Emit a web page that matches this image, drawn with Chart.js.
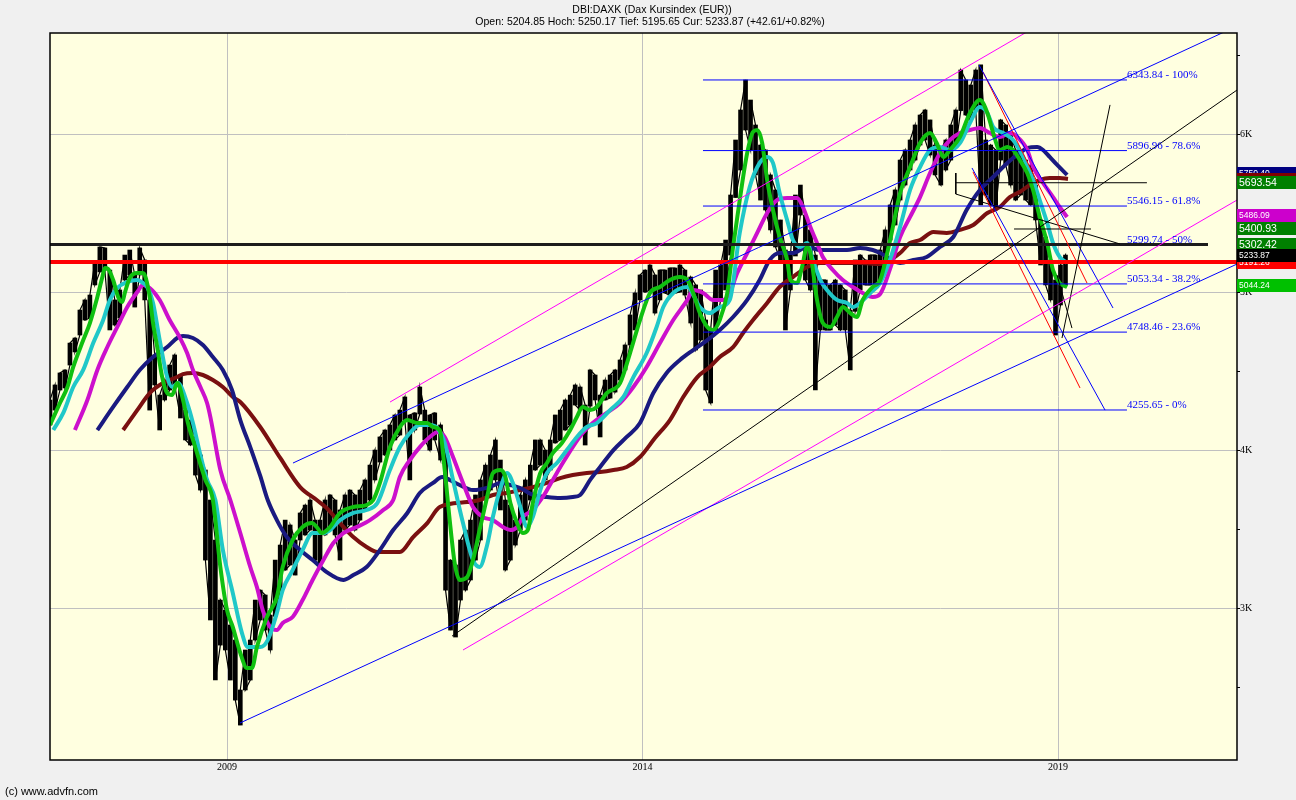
<!DOCTYPE html>
<html><head><meta charset="utf-8">
<script src="https://cdn.jsdelivr.net/npm/chart.js@4.4.1/dist/chart.umd.min.js"></script>
<style>html,body{margin:0;padding:0;background:#f0f0f0;}canvas{display:block;}</style>
</head><body>
<canvas id="c" width="1296" height="800"></canvas>
<script>
// ---------- text ----------
const titleLine1 = 'DBI:DAXK (Dax Kursindex (EUR))';
const titleLine2 = 'Open: 5204.85 Hoch: 5250.17 Tief: 5195.65 Cur: 5233.87 (+42.61/+0.82%)';
const copyrightText = '(c) www.advfn.com';

// ---------- axes ----------
const xRange = [2006.87, 2021.154];
const yRange = [2041, 6641];
const xTickValues = [2009, 2014, 2019];
const xTickLabels = ['2009', '2014', '2019'];
const yTickValues = [2500, 3000, 3500, 4000, 4500, 5000, 5500, 6000, 6500];
const yTickLabels = ['', '3K', '', '4K', '', '5K', '', '6K', ''];

// ---------- price (high / low ranges) ----------
const priceDates = [2006.87,2006.93,2006.99,2007.05,2007.11,2007.17,2007.23,2007.29,2007.35,2007.41,
2007.47,2007.53,2007.59,2007.65,2007.71,2007.77,2007.83,2007.89,2007.95,2008.01,
2008.07,2008.13,2008.19,2008.25,2008.31,2008.37,2008.44,2008.50,2008.56,2008.62,
2008.68,2008.74,2008.80,2008.86,2008.92,2008.98,2009.04,2009.10,2009.16,2009.22,
2009.28,2009.34,2009.40,2009.46,2009.52,2009.58,2009.64,2009.70,2009.76,2009.82,
2009.88,2009.94,2010.00,2010.06,2010.12,2010.18,2010.24,2010.30,2010.36,2010.42,
2010.48,2010.54,2010.60,2010.66,2010.72,2010.78,2010.84,2010.90,2010.96,2011.02,
2011.08,2011.14,2011.20,2011.26,2011.32,2011.38,2011.44,2011.50,2011.57,2011.63,
2011.69,2011.75,2011.81,2011.87,2011.93,2011.99,2012.05,2012.11,2012.17,2012.23,
2012.29,2012.35,2012.41,2012.47,2012.53,2012.59,2012.65,2012.71,2012.77,2012.83,
2012.89,2012.95,2013.01,2013.07,2013.13,2013.19,2013.25,2013.31,2013.37,2013.43,
2013.49,2013.55,2013.61,2013.67,2013.73,2013.79,2013.85,2013.91,2013.97,2014.03,
2014.09,2014.15,2014.21,2014.27,2014.33,2014.39,2014.45,2014.51,2014.58,2014.64,
2014.70,2014.76,2014.82,2014.88,2014.94,2015.00,2015.06,2015.12,2015.18,2015.24,
2015.30,2015.36,2015.42,2015.48,2015.54,2015.60,2015.66,2015.72,2015.78,2015.84,
2015.90,2015.96,2016.02,2016.08,2016.14,2016.20,2016.26,2016.32,2016.38,2016.44,
2016.50,2016.56,2016.62,2016.68,2016.74,2016.80,2016.86,2016.92,2016.98,2017.04,
2017.10,2017.16,2017.22,2017.28,2017.34,2017.40,2017.46,2017.52,2017.59,2017.65,
2017.71,2017.77,2017.83,2017.89,2017.95,2018.01,2018.07,2018.13,2018.19,2018.25,
2018.31,2018.37,2018.43,2018.49,2018.55,2018.61,2018.67,2018.73,2018.79,2018.85,
2018.91,2018.97,2019.03,2019.09];
const priceHigh = [4319,4414,4490,4509,4679,4711,4888,4952,4983,5192,
5287,5281,5141,4952,5015,5236,5268,5110,5281,5205,
4952,4604,4350,4445,4540,4604,4477,4255,4192,4066,
3971,3876,3686,3433,3053,2990,2895,2800,2484,2737,
2800,3053,3116,3085,2958,3306,3401,3559,3528,3433,
3604,3654,3686,3559,3559,3686,3718,3686,3623,3718,
3749,3718,3749,3813,3907,4002,4085,4129,4161,4224,
4255,4338,4224,4237,4401,4255,4224,4237,4161,4066,
3306,3275,3433,3496,3559,3718,3813,3907,3971,4066,
3939,3686,3654,3559,3718,3813,3907,4066,4066,4002,
4066,4224,4255,4319,4350,4414,4401,4287,4509,4477,
4350,4445,4477,4509,4572,4667,4857,4996,5110,5141,
5173,5110,5141,5141,5154,5154,5173,5141,5097,5047,
5015,4825,4762,5141,5173,5331,5616,5964,6154,6344,
6217,6059,5932,5901,5743,5648,5458,5268,5236,5616,
5679,5489,5395,5236,5078,5078,5047,5078,5047,5015,
4888,5205,5236,5205,5236,5236,5268,5395,5553,5648,
5837,5901,5964,6059,6122,6154,6091,5932,5901,5964,
6059,6154,6407,6344,6312,6407,6439,5964,5932,5901,
6091,6059,5996,5901,5901,5837,5806,5679,5458,5350,
5205,5078,5173,5236];
const priceLow = [4161,4255,4382,4395,4540,4623,4730,4825,4838,5047,
5129,5141,4762,4793,4838,5078,5110,4907,5110,4952,
4255,4414,4129,4319,4382,4414,4205,4066,4034,3844,
3749,3306,2927,2547,2768,2737,2547,2420,2262,2484,
2547,2800,2927,2863,2737,2950,3116,3243,3275,3211,
3433,3465,3496,3306,3275,3465,3496,3465,3306,3496,
3528,3496,3559,3623,3686,3813,3926,3971,4002,4066,
4097,4192,3813,4129,4230,4066,4002,4066,3939,3116,
2863,2819,3053,3116,3180,3306,3433,3686,3749,3813,
3623,3243,3306,3401,3496,3559,3686,3876,3907,3813,
3876,4047,4066,4129,4161,4287,4255,4034,4280,4319,
4085,4319,4331,4369,4445,4509,4667,4762,4952,5002,
5015,4869,4952,4996,4983,4996,5002,4983,4806,4635,
4698,4382,4300,4760,4952,5015,5236,5600,5774,6027,
5901,5743,5584,5521,5395,5287,5205,4762,5015,5230,
5489,5078,5015,4382,4762,4762,4762,4793,4762,4762,
4509,4880,5015,5047,5047,5047,5078,5173,5331,5426,
5584,5679,5774,5837,5932,5964,5869,5743,5679,5774,
5837,5932,6150,6122,6091,6154,5553,5616,5553,5521,
5837,5806,5679,5584,5616,5584,5553,5458,5173,5047,
4952,4730,4920,5047];

// ---------- moving averages ----------
const maGreenDates = [2006.87,2006.99,2007.08,2007.15,2007.27,2007.35,2007.44,2007.50,2007.53,2007.57,2007.63,2007.69,2007.74,2007.77,2007.83,2007.92,2007.98,2008.01,2008.07,2008.11,2008.16,2008.22,2008.28,2008.34,2008.40,2008.43,2008.49,2008.53,2008.61,2008.74,2008.83,2008.92,2009.00,2009.07,2009.16,2009.24,2009.30,2009.36,2009.48,2009.60,2009.67,2009.79,2009.91,2010.02,2010.08,2010.14,2010.24,2010.36,2010.52,2010.68,2010.76,2010.84,2010.96,2011.08,2011.17,2011.29,2011.41,2011.48,2011.56,2011.62,2011.68,2011.74,2011.80,2011.89,2011.96,2012.04,2012.13,2012.20,2012.29,2012.35,2012.41,2012.49,2012.56,2012.62,2012.68,2012.77,2012.85,2012.92,2013.03,2013.13,2013.21,2013.28,2013.37,2013.45,2013.57,2013.73,2013.85,2013.97,2014.09,2014.21,2014.33,2014.45,2014.54,2014.61,2014.69,2014.78,2014.85,2014.93,2015.02,2015.09,2015.17,2015.26,2015.33,2015.38,2015.44,2015.50,2015.57,2015.65,2015.74,2015.78,2015.86,2015.92,2015.98,2016.02,2016.10,2016.17,2016.26,2016.34,2016.41,2016.50,2016.58,2016.65,2016.77,2016.86,2016.98,2017.10,2017.22,2017.34,2017.46,2017.54,2017.62,2017.70,2017.82,2017.94,2018.06,2018.15,2018.22,2018.30,2018.39,2018.46,2018.54,2018.63,2018.70,2018.78,2018.87,2018.94,2019.02,2019.11];
const maGreenValues = [4161,4300,4401,4528,4698,4806,4971,5097,5154,5148,5078,4971,4939,4996,5091,5122,5122,5110,4971,4806,4654,4464,4363,4350,4426,4401,4275,4173,4034,3813,3686,3262,2990,2882,2718,2623,2623,2756,2946,3072,3262,3433,3515,3540,3515,3477,3515,3604,3642,3654,3686,3794,4021,4148,4192,4173,4173,4148,4129,3876,3559,3287,3180,3199,3306,3496,3705,3857,3876,3832,3667,3540,3477,3496,3667,3857,3920,3983,4047,4129,4211,4275,4255,4275,4363,4426,4616,4825,4996,5034,5078,5097,5078,4996,4869,4781,4762,4825,4996,5287,5584,5882,6015,6027,5945,5711,5521,5350,5205,5078,5059,5160,5287,5249,4952,4806,4781,4844,4907,4869,4844,4952,5034,5078,5331,5629,5793,5945,6008,5945,5857,5901,5983,6135,6217,6135,6008,5901,5920,5901,5837,5755,5648,5477,5312,5141,5059,5034];

const maCyanDates = [2006.91,2007.03,2007.15,2007.27,2007.39,2007.51,2007.59,2007.68,2007.80,2007.92,2007.99,2008.04,2008.11,2008.19,2008.28,2008.34,2008.41,2008.52,2008.59,2008.68,2008.76,2008.86,2008.95,2009.07,2009.18,2009.25,2009.40,2009.49,2009.60,2009.67,2009.79,2009.91,2010.03,2010.16,2010.24,2010.36,2010.52,2010.68,2010.81,2010.96,2011.08,2011.20,2011.32,2011.44,2011.53,2011.62,2011.72,2011.84,2011.96,2012.04,2012.13,2012.20,2012.29,2012.37,2012.44,2012.53,2012.61,2012.68,2012.77,2012.85,2012.97,2013.09,2013.21,2013.33,2013.45,2013.61,2013.77,2013.89,2014.05,2014.17,2014.25,2014.37,2014.54,2014.69,2014.81,2014.93,2015.05,2015.17,2015.29,2015.41,2015.50,2015.57,2015.65,2015.74,2015.81,2015.90,2015.98,2016.05,2016.14,2016.22,2016.34,2016.46,2016.53,2016.62,2016.74,2016.86,2016.98,2017.10,2017.22,2017.34,2017.46,2017.58,2017.70,2017.82,2017.94,2018.06,2018.15,2018.22,2018.34,2018.46,2018.58,2018.70,2018.78,2018.87,2018.94,2019.02,2019.11];
const maCyanValues = [4129,4237,4401,4509,4679,4825,4952,5028,5066,5078,5059,5034,4933,4698,4464,4401,4426,4300,4173,3971,3813,3686,3370,3097,2844,2756,2756,2800,2971,3116,3243,3370,3477,3477,3496,3559,3604,3623,3667,3876,4021,4110,4161,4161,4142,4047,3813,3540,3306,3262,3400,3580,3760,3857,3794,3642,3515,3578,3749,3857,3920,4002,4085,4148,4173,4255,4338,4464,4616,4781,4907,4996,5034,4907,4869,4907,4952,5376,5667,5819,5857,5819,5629,5458,5331,5287,5312,5205,5078,5015,4952,4933,4907,4933,4996,5059,5210,5414,5648,5793,5901,5920,5901,5945,6072,6173,6135,6046,6008,5964,5857,5711,5584,5439,5312,5224,5186];

const maMagentaDates = [2007.17,2007.32,2007.44,2007.56,2007.68,2007.80,2007.92,2007.99,2008.07,2008.19,2008.31,2008.43,2008.52,2008.59,2008.68,2008.76,2008.80,2008.92,2009.04,2009.16,2009.28,2009.36,2009.43,2009.52,2009.60,2009.67,2009.79,2009.91,2010.03,2010.16,2010.28,2010.40,2010.56,2010.72,2010.88,2011.00,2011.08,2011.20,2011.32,2011.44,2011.54,2011.62,2011.72,2011.84,2011.96,2012.08,2012.20,2012.32,2012.41,2012.49,2012.56,2012.68,2012.80,2012.92,2013.04,2013.16,2013.28,2013.40,2013.57,2013.73,2013.89,2014.05,2014.21,2014.37,2014.54,2014.61,2014.73,2014.85,2014.97,2015.05,2015.14,2015.26,2015.38,2015.50,2015.62,2015.74,2015.86,2015.93,2016.02,2016.10,2016.17,2016.29,2016.41,2016.53,2016.65,2016.77,2016.86,2016.98,2017.10,2017.22,2017.34,2017.46,2017.58,2017.70,2017.82,2017.94,2018.06,2018.18,2018.30,2018.42,2018.51,2018.63,2018.70,2018.82,2018.94,2019.02,2019.11];
const maMagentaValues = [4129,4319,4509,4654,4781,4907,5002,5047,5028,4952,4825,4717,4616,4509,4401,4300,4211,3876,3686,3477,3262,3135,2990,2882,2863,2908,2946,3053,3180,3306,3414,3477,3515,3559,3623,3686,3832,3939,4021,4085,4116,4085,3958,3794,3642,3578,3559,3515,3496,3515,3578,3623,3705,3813,3920,4021,4110,4173,4237,4300,4401,4528,4679,4825,4952,5015,4996,4952,4952,4996,5122,5249,5376,5502,5584,5597,5597,5540,5414,5312,5224,5141,5078,5034,4996,4971,4990,5150,5350,5477,5603,5755,5882,5964,6008,6027,6040,6008,5983,6008,5983,5901,5793,5692,5603,5540,5477];

const maNavyDates = [2007.44,2007.63,2007.80,2007.95,2008.11,2008.28,2008.40,2008.47,2008.59,2008.71,2008.83,2008.95,2009.06,2009.16,2009.28,2009.40,2009.49,2009.60,2009.72,2009.88,2010.03,2010.20,2010.40,2010.52,2010.68,2010.84,2011.00,2011.17,2011.32,2011.48,2011.59,2011.68,2011.80,2011.96,2012.16,2012.29,2012.41,2012.53,2012.68,2012.85,2013.01,2013.16,2013.25,2013.37,2013.49,2013.65,2013.81,2013.97,2014.13,2014.29,2014.45,2014.61,2014.78,2014.93,2015.09,2015.26,2015.41,2015.53,2015.65,2015.81,2015.98,2016.14,2016.29,2016.46,2016.62,2016.77,2016.86,2017.10,2017.26,2017.42,2017.58,2017.74,2017.90,2018.06,2018.22,2018.39,2018.54,2018.63,2018.75,2018.82,2018.90,2018.99,2019.11];
const maNavyValues = [4129,4275,4401,4509,4591,4654,4711,4724,4711,4667,4591,4509,4382,4192,4021,3838,3686,3559,3452,3370,3306,3230,3180,3211,3262,3370,3496,3604,3730,3794,3832,3813,3781,3749,3768,3794,3781,3762,3718,3705,3699,3705,3718,3813,3895,4002,4085,4173,4363,4490,4572,4635,4698,4762,4844,4952,5078,5205,5249,5249,5287,5268,5268,5268,5281,5268,5249,5186,5205,5224,5287,5350,5521,5648,5730,5819,5882,5913,5920,5901,5857,5806,5743];

const maBrownDates = [2007.75,2007.92,2008.07,2008.23,2008.40,2008.47,2008.59,2008.71,2008.83,2008.95,2009.07,2009.16,2009.40,2009.64,2009.88,2010.08,2010.20,2010.36,2010.52,2010.68,2010.81,2011.08,2011.24,2011.41,2011.56,2011.89,2012.04,2012.20,2012.37,2012.53,2012.68,2012.85,2013.01,2013.16,2013.33,2013.49,2013.65,2013.81,2013.97,2014.15,2014.33,2014.49,2014.66,2014.81,2014.93,2015.09,2015.21,2015.33,2015.50,2015.65,2015.81,2015.98,2016.14,2016.38,2016.62,2016.86,2017.10,2017.22,2017.34,2017.50,2017.66,2017.82,2017.98,2018.15,2018.30,2018.42,2018.54,2018.66,2018.78,2018.90,2019.02,2019.12];
const maBrownValues = [4129,4255,4363,4426,4464,4483,4490,4477,4445,4401,4338,4306,4148,3952,3768,3686,3635,3540,3452,3389,3357,3357,3452,3540,3642,3673,3686,3718,3730,3749,3768,3794,3825,3844,3857,3863,3876,3895,3958,4078,4192,4338,4464,4528,4591,4654,4743,4825,4933,5034,5097,5160,5186,5186,5186,5179,5249,5312,5331,5382,5376,5395,5426,5502,5540,5603,5635,5679,5711,5724,5724,5717];

// ---------- Fibonacci retracement ----------
const fibLevels = [6343.84, 5896.96, 5546.15, 5299.74, 5053.34, 4748.46, 4255.65];
const fibLabels = ['6343.84 - 100%', '5896.96 - 78.6%', '5546.15 - 61.8%', '5299.74 - 50%', '5053.34 - 38.2%', '4748.46 - 23.6%', '4255.65 - 0%'];
const fibSpan = [2014.728, 2019.830];

// ---------- drawn trend lines: [x1, y1, x2, y2] in years / index points ----------
const trendSegments = [
  [2009.156, 2275, 2021.154, 5179],
  [2011.840, 2737, 2021.154, 5584],
  [2009.794, 3920, 2021.154, 6685],
  [2010.962, 4306, 2018.904, 6733],
  [2011.708, 2825, 2021.154, 6280],
  [2019.048, 4711, 2019.626, 6186],
  [2018.988, 5110, 2019.168, 4774],
  [2018.049, 6439, 2019.662, 4901],
  [2018.098, 6394, 2019.349, 5059],
  [2017.977, 5762, 2019.265, 4395],
  [2017.965, 5787, 2019.566, 4255],
  [2017.770, 5755, 2017.770, 5622],
  [2017.770, 5622, 2019.746, 5306],
  [2017.770, 5693.54, 2020.070, 5693.54],
  [2018.471, 5400.93, 2019.397, 5400.93],
  [2006.870, 5302.42, 2020.805, 5302.42],
  [2006.870, 5191.26, 2021.154, 5191.26]
];
const trendColors = ['#0000ff','#ff00ff','#0000ff','#ff00ff','#000000','#000000','#000000','#0000ff','#ff0000','#ff0000','#0000ff','#000000','#000000','#000000','#000000','#1c1c1c','#ff0000'];
const trendWidths = [1,1,1,1,1,1,1,1,1,1,1,1,1,1,1,3,4];

// ---------- right side value boxes ----------
const boxValues = [5752, 5714, 5693.54, 5486.09, 5400.93, 5302.42, 5186, 5191.26, 5233.87, 5044.24];
const boxTexts = ['5750.40', '5714.46', '5693.54', '5486.09', '5400.93', '5302.42', '5186.24', '5191.26', '5233.87', '5044.24'];
const boxColors = ['#000080', '#800000', '#008000', '#cc00cc', '#008000', '#008000', '#00c8c8', '#ff0000', '#000000', '#00c000'];
const boxLarge = [false, false, true, false, true, true, false, false, false, false];

// ---------- build ----------
const pts = (xs, ys) => xs.map((d, i) => ({ x: d, y: ys[i] }));
const maStyle = (color, order) => ({ type: 'line', borderColor: color, borderWidth: 4, pointRadius: 0, cubicInterpolationMode: 'monotone', order });

// price trace: each sample drawn as a vertical high-low stroke, joined to the next one
const priceTrace = [];
priceDates.forEach((d, i) => {
  if (i % 2 === 0) { priceTrace.push({ x: d, y: priceLow[i] }, { x: d, y: priceHigh[i] }); }
  else { priceTrace.push({ x: d, y: priceHigh[i] }, { x: d, y: priceLow[i] }); }
});

const datasets = [];
trendSegments.forEach((s, i) => datasets.push({
  type: 'line', data: [{ x: s[0], y: s[1] }, { x: s[2], y: s[3] }],
  borderColor: trendColors[i], borderWidth: trendWidths[i], pointRadius: 0, order: 0
}));
fibLevels.forEach(lv => datasets.push({
  type: 'line', data: [{ x: fibSpan[0], y: lv }, { x: fibSpan[1], y: lv }],
  borderColor: '#0000ff', borderWidth: 1, pointRadius: 0, order: 1
}));
datasets.push(Object.assign(maStyle('#10c010', 2), { data: pts(maGreenDates, maGreenValues) }));
datasets.push(Object.assign(maStyle('#20c8c8', 3), { data: pts(maCyanDates, maCyanValues) }));
datasets.push(Object.assign(maStyle('#cc10cc', 4), { data: pts(maMagentaDates, maMagentaValues) }));
datasets.push(Object.assign(maStyle('#1a1a80', 5), { data: pts(maNavyDates, maNavyValues) }));
datasets.push(Object.assign(maStyle('#7a1010', 6), { data: pts(maBrownDates, maBrownValues) }));
datasets.push({
  type: 'line', data: priceTrace, borderColor: '#000000', borderWidth: 1.2, pointRadius: 0, tension: 0, order: 7
});
datasets.push({
  type: 'bar', data: priceDates.map((d, i) => ({ x: d, y: [priceLow[i], priceHigh[i]] })),
  backgroundColor: '#000000', borderWidth: 0, barThickness: 4, grouped: false, order: 8
});

const serif = '"Liberation Serif", "Times New Roman", serif';
const sans = '"Liberation Sans", Arial, sans-serif';

const bgPlugin = {
  id: 'bg',
  beforeDraw(chart) {
    const { ctx, chartArea: a } = chart;
    ctx.save();
    ctx.fillStyle = '#f0f0f0';
    ctx.fillRect(0, 0, chart.width, chart.height);
    ctx.fillStyle = '#ffffe0';
    ctx.fillRect(a.left, a.top, a.right - a.left, a.bottom - a.top);
    ctx.restore();
  }
};

const overlayPlugin = {
  id: 'overlay',
  afterDatasetsDraw(chart) {
    const { ctx, chartArea: a, scales: { x, y } } = chart;
    ctx.save();
    ctx.strokeStyle = '#000';
    ctx.lineWidth = 1.5;
    ctx.strokeRect(a.left, a.top, a.right - a.left, a.bottom - a.top);

    ctx.font = '11px ' + serif;
    ctx.fillStyle = '#0000ff';
    ctx.textAlign = 'left';
    ctx.textBaseline = 'alphabetic';
    const fx = x.getPixelForValue(fibSpan[1]);
    fibLevels.forEach((lv, i) => ctx.fillText(fibLabels[i], fx, y.getPixelForValue(lv) - 2));

    boxValues.forEach((v, i) => {
      const cy = y.getPixelForValue(v);
      ctx.fillStyle = boxColors[i];
      ctx.fillRect(a.right, Math.round(cy - 6.5), chart.width - a.right, 13);
      ctx.fillStyle = '#ffffff';
      ctx.font = (boxLarge[i] ? '10.5px ' : '8.5px ') + sans;
      ctx.textBaseline = 'middle';
      ctx.fillText(boxTexts[i], a.right + 2, cy + 0.5);
    });
    ctx.restore();
  },
  afterDraw(chart) {
    const { ctx } = chart;
    ctx.save();
    ctx.fillStyle = '#000';
    ctx.font = '10.5px ' + sans;
    ctx.textAlign = 'center';
    ctx.textBaseline = 'middle';
    ctx.fillText(titleLine1, 652, 10);
    ctx.fillText(titleLine2, 650, 22);
    ctx.textAlign = 'left';
    ctx.font = '11px ' + sans;
    ctx.fillText(copyrightText, 5, 792);
    ctx.restore();
  }
};

new Chart(document.getElementById('c'), {
  data: { datasets },
  options: {
    responsive: false,
    animation: false,
    devicePixelRatio: 1,
    events: [],
    layout: { padding: { left: 50, top: 33, right: 0, bottom: 0 } },
    plugins: { legend: { display: false }, tooltip: { enabled: false }, title: { display: false } },
    scales: {
      x: {
        type: 'linear', min: xRange[0], max: xRange[1], offset: false,
        afterBuildTicks: s => { s.ticks = xTickValues.map(v => ({ value: v })); },
        afterFit: s => { s.height = 40; },
        ticks: { callback: (v, i) => xTickLabels[i], autoSkip: false, maxRotation: 0, padding: 1, color: '#000', font: { family: serif, size: 10 } },
        grid: { color: '#c0c0c0', drawTicks: false, offset: false, lineWidth: 1 },
        border: { display: false }
      },
      y: {
        type: 'linear', position: 'right', min: yRange[0], max: yRange[1],
        afterBuildTicks: s => { s.ticks = yTickValues.map(v => ({ value: v })); },
        afterFit: s => { s.width = 59; },
        ticks: { callback: (v, i) => yTickLabels[i], autoSkip: false, padding: 0, color: '#000', font: { family: serif, size: 10 } },
        grid: { color: c => (yTickLabels[c.index] ? '#c0c0c0' : 'rgba(0,0,0,0)'), tickColor: '#000', tickLength: 3, drawTicks: true },
        border: { display: false }
      }
    }
  },
  plugins: [bgPlugin, overlayPlugin]
});
</script>
</body></html>
